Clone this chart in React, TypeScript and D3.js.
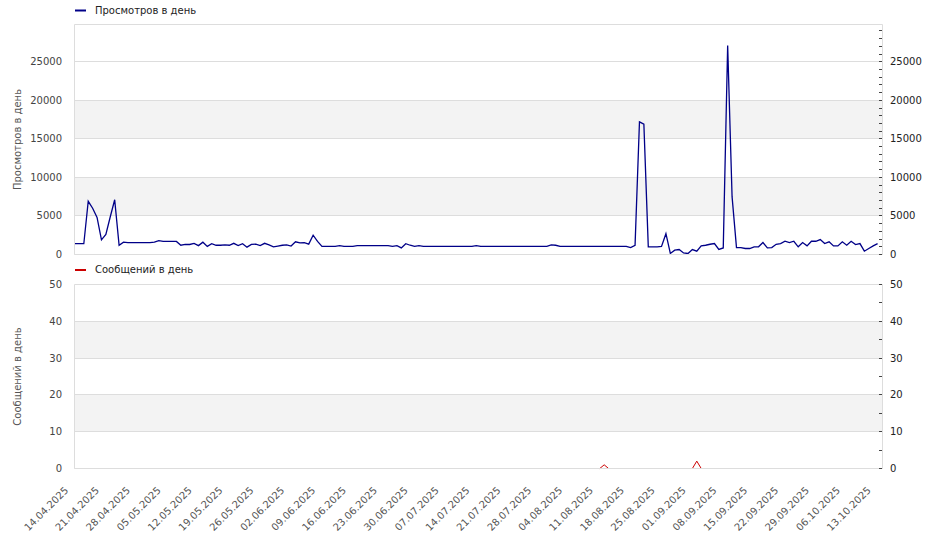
import React from "react";
import * as d3 from "d3";

const startDate = "2025-04-14";

const views: number[] = [
  1400, 1400, 1400, 6900, 6000, 4800, 1900, 2600, 4900, 7100,
  1200, 1600, 1550, 1550, 1550, 1550, 1550, 1550, 1600, 1800,
  1700, 1700, 1700, 1700, 1200, 1300, 1300, 1450, 1150, 1600,
  1050, 1400, 1200, 1200, 1250, 1200, 1450, 1150, 1400, 950,
  1300, 1350, 1150, 1450, 1250, 1000, 1100, 1200, 1250, 1100,
  1650, 1500, 1550, 1350, 2500, 1700, 1050, 1050, 1050, 1050,
  1150, 1050, 1050, 1050, 1150, 1150, 1150, 1150, 1150, 1150,
  1150, 1150, 1050, 1150, 850, 1400, 1200, 1050, 1150, 1050,
  1050, 1050, 1050, 1050, 1050, 1050, 1050, 1050, 1050, 1050,
  1050, 1150, 1050, 1050, 1050, 1050, 1050, 1050, 1050, 1050,
  1050, 1050, 1050, 1050, 1050, 1050, 1050, 1050, 1250, 1200,
  1050, 1050, 1050, 1050, 1050, 1050, 1050, 1050, 1050, 1050,
  1050, 1050, 1050, 1050, 1050, 1050, 900, 1200, 17200, 16900,
  1000, 1000, 1000, 1050, 2700, 130, 560, 650, 200, 130,
  640, 430, 1110, 1200, 1330, 1420, 650, 850, 27120, 7500,
  900, 900, 780, 780, 1000, 1000, 1550, 850, 900, 1330,
  1420, 1720, 1550, 1720, 1000, 1550, 1120, 1720, 1720, 1940,
  1420, 1640, 1110, 1110, 1640, 1200, 1720, 1290, 1420, 430,
  780, 1120, 1420,
];

const messages: number[] = [
  0, 0, 0, 0, 0, 0, 0, 0, 0, 0,
  0, 0, 0, 0, 0, 0, 0, 0, 0, 0,
  0, 0, 0, 0, 0, 0, 0, 0, 0, 0,
  0, 0, 0, 0, 0, 0, 0, 0, 0, 0,
  0, 0, 0, 0, 0, 0, 0, 0, 0, 0,
  0, 0, 0, 0, 0, 0, 0, 0, 0, 0,
  0, 0, 0, 0, 0, 0, 0, 0, 0, 0,
  0, 0, 0, 0, 0, 0, 0, 0, 0, 0,
  0, 0, 0, 0, 0, 0, 0, 0, 0, 0,
  0, 0, 0, 0, 0, 0, 0, 0, 0, 0,
  0, 0, 0, 0, 0, 0, 0, 0, 0, 0,
  0, 0, 0, 0, 0, 0, 0, 0, 0, 0,
  1, 0, 0, 0, 0, 0, 0, 0, 0, 0,
  0, 0, 0, 0, 0, 0, 0, 0, 0, 0,
  0, 2, 0, 0, 0, 0, 0, 0, 0, 0,
  0, 0, 0, 0, 0, 0, 0, 0, 0, 0,
  0, 0, 0, 0, 0, 0, 0, 0, 0, 0,
  0, 0, 0, 0, 0, 0, 0, 0, 0, 0,
  0, 0, 0,
];

const xTickLabels: string[] = [
  "14.04.2025", "21.04.2025", "28.04.2025", "05.05.2025", "12.05.2025",
  "19.05.2025", "26.05.2025", "02.06.2025", "09.06.2025", "16.06.2025",
  "23.06.2025", "30.06.2025", "07.07.2025", "14.07.2025", "21.07.2025",
  "28.07.2025", "04.08.2025", "11.08.2025", "18.08.2025", "25.08.2025",
  "01.09.2025", "08.09.2025", "15.09.2025", "22.09.2025", "29.09.2025",
  "06.10.2025", "13.10.2025",
];

const viewsTicks: number[] = [0, 5000, 10000, 15000, 20000, 25000];
const messagesTicks: number[] = [0, 10, 20, 30, 40, 50];

const viewsTitle = "Просмотров в день";
const messagesTitle = "Сообщений в день";

const FONT = "DejaVu Sans, Verdana, sans-serif";
const DAY = 86400000;

function parseLabel(s: string): Date {
  const [d, m, y] = s.split(".").map(Number);
  return new Date(Date.UTC(y, m - 1, d));
}

const crisp = (v: number) => Math.round(v - 0.5) + 0.5;

function Panel(props: {
  y: d3.ScaleLinear<number, number>;
  ticks: number[];
  minorStep: number;
  minorMax: number;
  drawTop: boolean;
  children?: React.ReactNode;
}) {
  const { y, ticks, minorStep, minorMax, drawTop, children } = props;
  const L = 74.5;
  const R = 882.5;
  const top = crisp(y.range()[1]);
  const bottom = crisp(y.range()[0]);
  const bands: [number, number][] = [];
  for (let k = 1; k + 1 < ticks.length; k += 2) bands.push([ticks[k], ticks[k + 1]]);
  return (
    <g>
      {bands.map(([a, b], i) => (
        <rect key={"b" + i} x={L} y={crisp(y(b))} width={R - L} height={crisp(y(a)) - crisp(y(b))} fill="#f3f3f3" />
      ))}
      {ticks.map((t) => (
        <line key={"g" + t} x1={L} x2={R} y1={crisp(y(t))} y2={crisp(y(t))} stroke="#dddddd" />
      ))}
      {drawTop && <line x1={L} x2={R} y1={top} y2={top} stroke="#dddddd" />}
      <line x1={L} x2={L} y1={top} y2={bottom} stroke="#dddddd" />
      <line x1={R} x2={R} y1={top} y2={bottom} stroke="#dddddd" />
      {children}
      <line x1={L} x2={R} y1={bottom} y2={bottom} stroke="#dddddd" />
      {ticks.map((t) => (
        <text key={"l" + t} x={62} y={y(t)} dy="0.35em" textAnchor="end" fontSize={10} fontFamily={FONT} fill="#444">
          {t}
        </text>
      ))}
      {ticks.map((t) => (
        <text key={"r" + t} x={890} y={y(t)} dy="0.35em" textAnchor="start" fontSize={10} fontFamily={FONT} fill="#222">
          {t}
        </text>
      ))}
      {d3.range(0, minorMax + 1e-9, minorStep).map((v) => (
        <line key={"m" + v} x1={879} x2={882} y1={crisp(y(v))} y2={crisp(y(v))} stroke="#444" />
      ))}
    </g>
  );
}

export default function App() {
  const t0 = new Date(startDate + "T00:00:00Z").getTime();
  const dates = views.map((_, i) => new Date(t0 + i * DAY));

  const x = d3
    .scaleUtc()
    .domain([dates[0], dates[dates.length - 1]])
    .range([75, 877.6]);

  const yV = d3.scaleLinear().domain([0, 29830]).range([254.5, 24.5]);
  const yM = d3.scaleLinear().domain([0, 50]).range([468.5, 284.5]);

  const lineV = d3
    .line<number>()
    .x((_, i) => x(dates[i]))
    .y((d) => yV(d));
  const lineM = d3
    .line<number>()
    .x((_, i) => x(dates[i]))
    .y((d) => yM(d));

  return (
    <svg
      width={938}
      height={548}
      style={{ position: "absolute", left: 0, top: 0, display: "block", background: "#fff" }}
    >
      <rect x={0} y={0} width={938} height={548} fill="#fff" />

      <Panel y={yV} ticks={viewsTicks} minorStep={1000} minorMax={29000} drawTop={true}>
        <path d={lineV(views) || ""} fill="none" stroke="#000088" strokeWidth={1.3} />
      </Panel>

      <Panel y={yM} ticks={messagesTicks} minorStep={5} minorMax={50} drawTop={false}>
        <path d={lineM(messages) || ""} fill="none" stroke="#cc0000" strokeWidth={1} />
      </Panel>

      {/* Legends */}
      <line x1={75} x2={86} y1={10.5} y2={10.5} stroke="#000088" strokeWidth={2} />
      <text x={95} y={13.5} fontSize={10} fontFamily={FONT} fill="#222">
        {viewsTitle}
      </text>
      <line x1={75} x2={86} y1={270} y2={270} stroke="#cc0000" strokeWidth={2} />
      <text x={95} y={273} fontSize={10} fontFamily={FONT} fill="#222">
        {messagesTitle}
      </text>

      {/* Axis titles */}
      <text
        transform={`translate(21,${(yV.range()[0] + yV.range()[1]) / 2}) rotate(-90)`}
        textAnchor="middle"
        fontSize={10}
        fontFamily={FONT}
        fill="#555"
      >
        {viewsTitle}
      </text>
      <text
        transform={`translate(21,${(yM.range()[0] + yM.range()[1]) / 2}) rotate(-90)`}
        textAnchor="middle"
        fontSize={10}
        fontFamily={FONT}
        fill="#555"
      >
        {messagesTitle}
      </text>

      {/* X labels */}
      {xTickLabels.map((s) => {
        const px = x(parseLabel(s));
        return (
          <text
            key={s}
            transform={`translate(${px - 6},${491}) rotate(-45)`}
            textAnchor="end"
            fontSize={10}
            fontFamily={FONT}
            fill="#555"
          >
            {s}
          </text>
        );
      })}
    </svg>
  );
}
